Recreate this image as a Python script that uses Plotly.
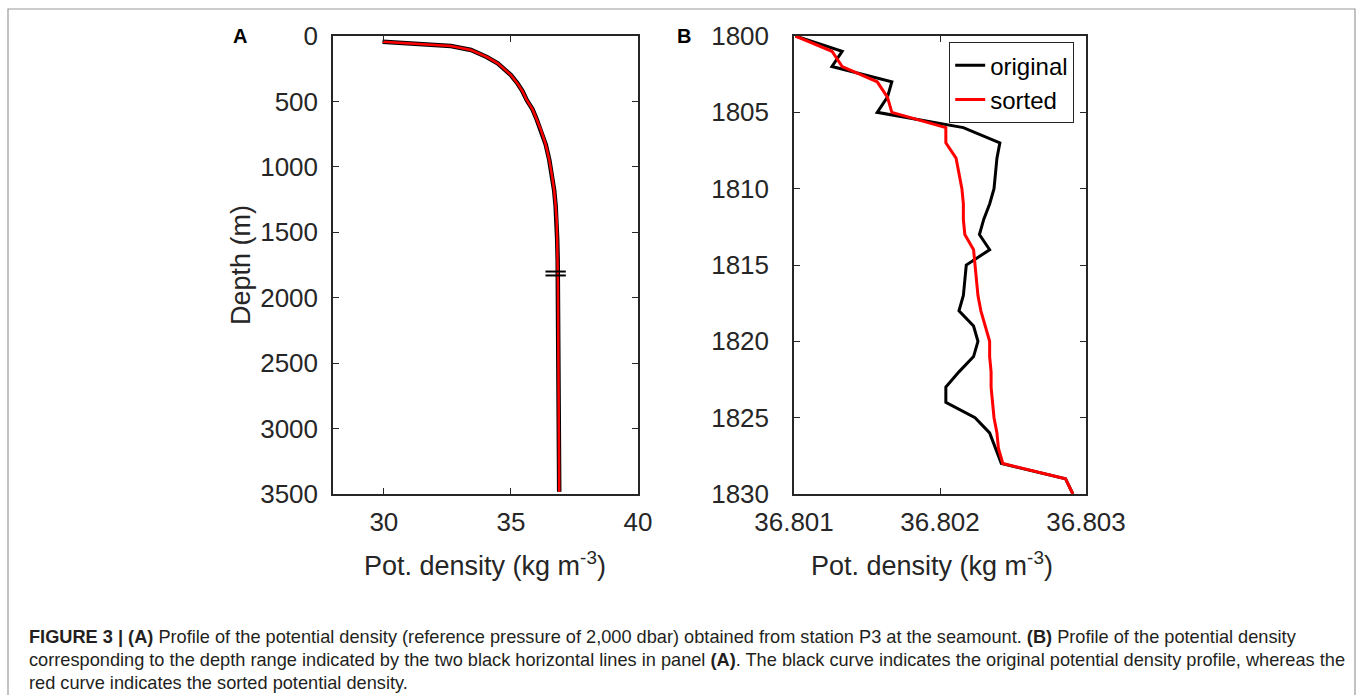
import plotly.graph_objects as go

W, H = 1358, 695

# Panel A: full potential density profile
depth_a = [44, 60, 76, 107, 128, 160, 209, 260, 298, 360, 420, 489, 560, 640, 718,
           830, 948, 1060, 1177, 1300, 1406, 1550, 1712, 1900, 2200, 2500, 2800, 3100, 3483]
dens_a = [29.95, 31.3, 32.64, 33.43, 33.69, 34.05, 34.48, 34.78, 35.0, 35.25, 35.45, 35.62,
          35.85, 36.02, 36.18, 36.37, 36.51, 36.61, 36.70, 36.76, 36.80, 36.82, 36.84, 36.85,
          36.86, 36.87, 36.88, 36.89, 36.90]

# Depth window shown in panel B (marked in panel A)
window_depths = [1800, 1830]
window_density = 36.76
window_half_width = 0.4

# Panel B: 1800-1830 m, original vs sorted
depth_b = list(range(1800, 1831))
dens_original = [36.80101, 36.80133, 36.80126, 36.80167, 36.80164, 36.80157, 36.80216,
                 36.80241, 36.80239, 36.80238, 36.80237, 36.80234, 36.80230, 36.80227,
                 36.80234, 36.80218, 36.80217, 36.80216, 36.80213, 36.80223, 36.80226,
                 36.80223, 36.80213, 36.80204, 36.80204, 36.80224, 36.80234, 36.80238,
                 36.80242, 36.80286, 36.80291]
dens_sorted = [36.80101, 36.80126, 36.80133, 36.80157, 36.80164, 36.80167, 36.80204,
               36.80204, 36.80211, 36.80213, 36.80215, 36.80216, 36.80216, 36.80217,
               36.80223, 36.80224, 36.80225, 36.80226, 36.80228, 36.80231, 36.80234,
               36.80234, 36.80235, 36.80235, 36.80236, 36.80237, 36.80239, 36.80240,
               36.80243, 36.80286, 36.80291]

ticks_a_x = [30, 35, 40]
ticks_a_y = [0, 500, 1000, 1500, 2000, 2500, 3000, 3500]
ticks_b_x = [36.801, 36.802, 36.803]
ticks_b_y = [1800, 1805, 1810, 1815, 1820, 1825, 1830]

FONT = "Liberation Sans, Arial, sans-serif"
AX = "#262626"


def px_x(p):
    return p / W


def px_y(p):
    return 1 - p / H


fig = go.Figure()

fig.add_trace(go.Scatter(x=dens_a, y=depth_a, mode="lines", line=dict(color="black", width=4.5),
                         showlegend=False, xaxis="x", yaxis="y"))
fig.add_trace(go.Scatter(x=dens_a, y=depth_a, mode="lines", line=dict(color="#ff0000", width=2.5),
                         showlegend=False, xaxis="x", yaxis="y"))

for d in window_depths:
    fig.add_trace(go.Scatter(x=[window_density - window_half_width, window_density + window_half_width],
                             y=[d, d], mode="lines", line=dict(color="black", width=2),
                             showlegend=False, xaxis="x", yaxis="y"))

fig.add_trace(go.Scatter(x=dens_original, y=depth_b, mode="lines", name="original",
                         line=dict(color="black", width=3), xaxis="x2", yaxis="y2"))
fig.add_trace(go.Scatter(x=dens_sorted, y=depth_b, mode="lines", name="sorted",
                         line=dict(color="#ff0000", width=3), xaxis="x2", yaxis="y2"))

axis_common = dict(showgrid=False, zeroline=False, showline=True, linecolor=AX, linewidth=1.5,
                   mirror="ticks", ticks="inside", ticklen=6, tickwidth=1.2, tickcolor=AX,
                   automargin=False,
                   tickfont=dict(family=FONT, size=26, color="#262626"))

fig.update_layout(
    width=W, height=H,
    autosize=False,
    margin=dict(l=0, r=0, t=0, b=0, pad=0, autoexpand=False),
    paper_bgcolor="white", plot_bgcolor="white",
    xaxis=dict(domain=[px_x(333), px_x(638)], range=[28, 40], tickvals=ticks_a_x,
               anchor="y", ticklabelstandoff=4, **axis_common),
    yaxis=dict(domain=[px_y(494), px_y(36)], range=[3500, 0], tickvals=ticks_a_y,
               anchor="x", ticklabelstandoff=8, **axis_common),
    xaxis2=dict(domain=[px_x(794), px_x(1086)], range=[36.801, 36.803], tickvals=ticks_b_x,
                tickformat=".3f", anchor="y2", ticklabelstandoff=4, **axis_common),
    yaxis2=dict(domain=[px_y(494), px_y(36)], range=[1830, 1800], tickvals=ticks_b_y,
                anchor="x2", ticklabelstandoff=18, **axis_common),
    legend=dict(x=px_x(949), y=px_y(42), xanchor="left", yanchor="top",
                bgcolor="white", bordercolor="#262626", borderwidth=1.2,
                font=dict(family=FONT, size=24, color="black"),
                itemwidth=30, tracegroupgap=0),
    showlegend=True,
)

ann = []
title_font = dict(family=FONT, size=27, color="#262626")
ann.append(dict(text="Depth (m)", x=px_x(241), y=px_y(265), xref="paper", yref="paper",
                textangle=-90, showarrow=False, font=title_font, xanchor="center", yanchor="middle"))
ann.append(dict(text="Pot. density (kg m<sup>-3</sup>)", x=px_x(485), y=px_y(564), xref="paper",
                yref="paper", showarrow=False, font=title_font, xanchor="center", yanchor="middle"))
ann.append(dict(text="Pot. density (kg m<sup>-3</sup>)", x=px_x(932), y=px_y(564), xref="paper",
                yref="paper", showarrow=False, font=title_font, xanchor="center", yanchor="middle"))
ann.append(dict(text="<b>A</b>", x=px_x(240), y=px_y(36), xref="paper", yref="paper",
                xanchor="center", yanchor="middle",
                showarrow=False, font=dict(family=FONT, size=20, color="black")))
ann.append(dict(text="<b>B</b>", x=px_x(684), y=px_y(36), xref="paper", yref="paper",
                xanchor="center", yanchor="middle",
                showarrow=False, font=dict(family=FONT, size=20, color="black")))

cap_font = dict(family=FONT, size=18.2, color="#231f20")
caption = [
    "<b>FIGURE 3 | (A)</b> Profile of the potential density (reference pressure of 2,000 dbar) obtained from station P3 at the seamount. <b>(B)</b> Profile of the potential density",
    "corresponding to the depth range indicated by the two black horizontal lines in panel <b>(A)</b>. The black curve indicates the original potential density profile, whereas the",
    "red curve indicates the sorted potential density.",
]
for i, line in enumerate(caption):
    ann.append(dict(text=line, x=px_x(27), y=px_y(637 + 23 * i), xref="paper", yref="paper",
                    xanchor="left", yanchor="middle", showarrow=False, font=cap_font, align="left"))
fig.update_layout(annotations=ann)

fig.add_shape(type="rect", xref="paper", yref="paper", x0=px_x(8), x1=px_x(1355),
              y0=px_y(705), y1=px_y(9), line=dict(color="#9a9a9a", width=1.2), layer="below")

fig.write_html("out.html")
